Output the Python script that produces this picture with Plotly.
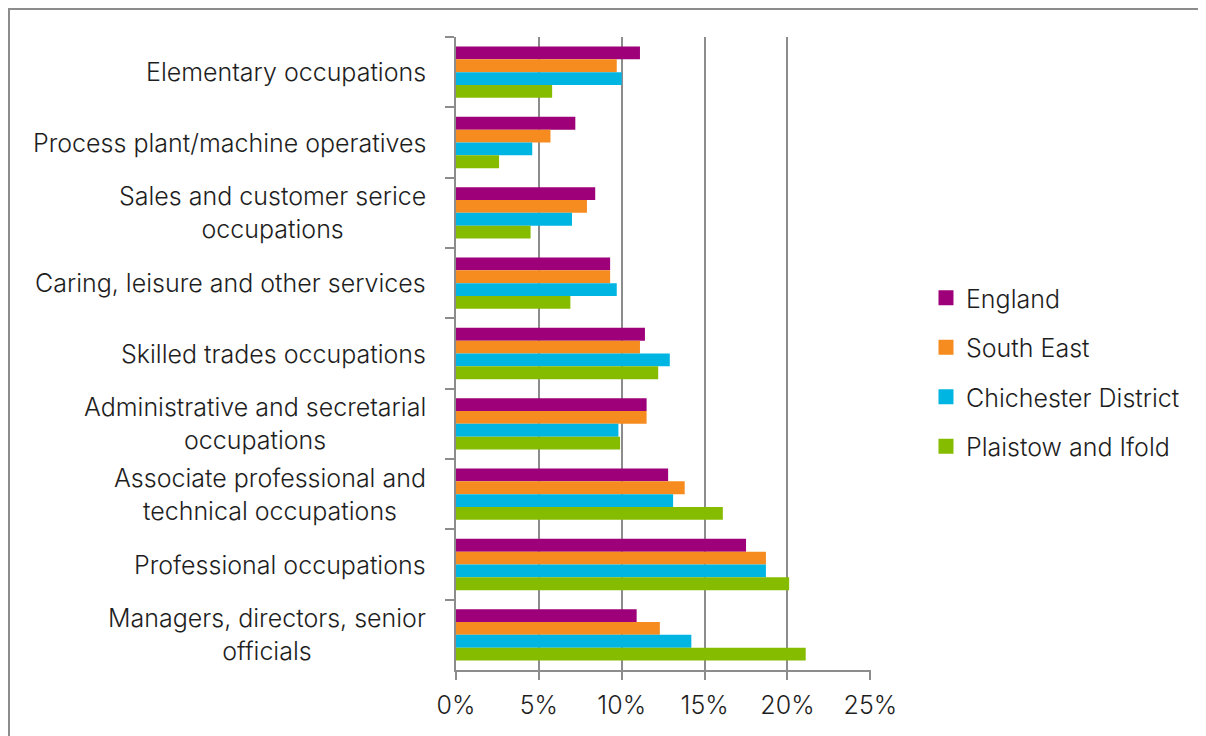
import plotly.graph_objects as go

categories = [
    "Elementary occupations",
    "Process plant/machine operatives",
    "Sales and customer serice<br>occupations",
    "Caring, leisure and other services",
    "Skilled trades occupations",
    "Administrative and secretarial<br>occupations",
    "Associate professional and<br>technical occupations",
    "Professional occupations",
    "Managers, directors, senior<br>officials",
]

england = [11.1, 7.2, 8.4, 9.3, 11.4, 11.5, 12.8, 17.5, 10.9]
south_east = [9.7, 5.7, 7.9, 9.3, 11.1, 11.5, 13.8, 18.7, 12.3]
chichester = [10.0, 4.6, 7.0, 9.7, 12.9, 9.8, 13.1, 18.7, 14.2]
plaistow = [5.8, 2.6, 4.5, 6.9, 12.2, 9.9, 16.1, 20.1, 21.1]

series_names = ["England", "South East", "Chichester District", "Plaistow and Ifold"]
series_values = [england, south_east, chichester, plaistow]
colors = ["#9E0079", "#F68B1F", "#00B5E2", "#86BC00"]

x_ticks = [0, 5, 10, 15, 20, 25]
x_tick_labels = ["0%", "5%", "10%", "15%", "20%", "25%"]

FONT = "Inter"
TEXT = "#1e1e1e"
GRID = "#8c8c8c"
FS = 25

fig = go.Figure()
for name, vals, col in zip(series_names, series_values, colors):
    fig.add_trace(go.Bar(
        y=categories, x=vals, name=name, orientation="h",
        marker=dict(color=col, line=dict(width=0)),
        legendgroup=name, showlegend=False,
    ))
# legend entries with larger square swatches
for name, col in zip(series_names, colors):
    fig.add_trace(go.Scatter(
        x=[None], y=[None], mode="markers", name=name,
        marker=dict(symbol="square", size=15, color=col),
        legendgroup=name, showlegend=True,
    ))

annotations = []
for cat in categories:
    annotations.append(dict(
        x=0, xref="paper", y=cat, yref="y",
        xanchor="right", yanchor="middle", xshift=-28,
        text=cat, showarrow=False, align="center",
        font=dict(family=FONT, size=FS, color=TEXT, weight=300),
    ))

L, T = 448, 29
PW, PH = 415, 633
fig.update_layout(
    width=1206, height=736,
    margin=dict(l=L, r=1206 - L - PW, t=T, b=736 - T - PH),
    paper_bgcolor="white", plot_bgcolor="white",
    barmode="group", bargap=0.27, bargroupgap=0,
    font=dict(family=FONT, size=FS, color=TEXT, weight=300),
    xaxis=dict(
        range=[0, 25.04], tickvals=x_ticks, ticktext=x_tick_labels,
        showgrid=True, gridcolor=GRID, gridwidth=2,
        showline=True, linecolor=GRID, linewidth=2,
        ticks="outside", ticklen=8, tickcolor=GRID, tickwidth=2,
        ticklabelstandoff=4,
        zeroline=False, fixedrange=True,
        tickfont=dict(family=FONT, size=FS, color=TEXT, weight=300),
    ),
    yaxis=dict(
        categoryorder="array", categoryarray=categories,
        autorange="reversed",
        showticklabels=False, showgrid=False,
        showline=True, linecolor=GRID, linewidth=2,
        ticks="outside", tickson="boundaries", ticklen=9,
        tickcolor=GRID, tickwidth=2, zeroline=False,
    ),
    legend=dict(
        x=1.1325, xanchor="left", y=0.624, yanchor="top",
        traceorder="grouped", tracegroupgap=14,
        font=dict(family=FONT, size=FS, color=TEXT, weight=300),
        itemwidth=30,
    ),
    annotations=annotations,
    shapes=[dict(
        type="rect", xref="paper", yref="paper",
        x0=(1 - L) / PW, x1=(1300 - L) / PW,
        y0=-0.3, y1=1 + (T - 1) / PH,
        line=dict(color="#8c8c8c", width=2), fillcolor="rgba(0,0,0,0)",
        layer="below",
    )],
)

fig.write_html("out.html")
